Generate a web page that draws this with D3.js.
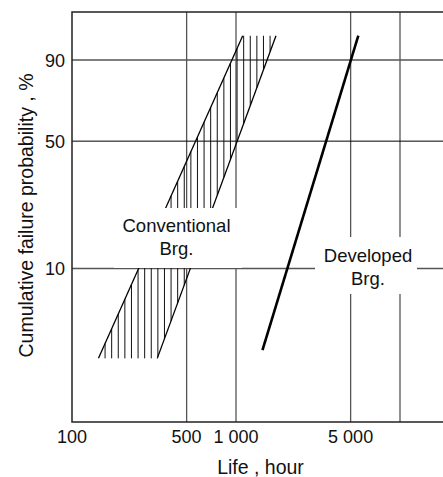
<!DOCTYPE html>
<html>
<head>
<meta charset="utf-8">
<script src="https://cdn.jsdelivr.net/npm/d3@7"></script>
<style>
	body{margin:0;background:#fff;}
	svg text{font-family:"Liberation Sans",Arial,sans-serif;fill:#111;}
</style>
</head>
<body>
<div id="chart"></div>
<script>
// data (life in hours, F in %)
var xTickValues=[100,500,1000,5000];
var xTickLabels=["100","500","1 000","5 000"];
var xGridValues=[500,1000,5000,10000];
var yTickValues=[10,50,90];
var yTickLabels=["10","50","90"];
var developedLife=[1450,5570];
var developedF=[3.1,96.3];
var convLeftLife=[145,1099];
var convRightLife=[331,1753];
var convF=[2.75,96.3];
var labelConventional=["Conventional","Brg."];
var labelDeveloped=["Developed","Brg."];

var W=443,H=477;
var mLeft=72,mTop=12,mRight=443,mBottom=422;

// weibull probability transform
function weib(p){return Math.log(-Math.log(1-p/100));}

var x=d3.scaleLog().domain([100,10000]).range([mLeft,400]);
var y=d3.scaleLinear().domain([weib(10),weib(90)]).range([268.5,60]);

var svg=d3.select("#chart").append("svg").attr("width",W).attr("height",H);

// grid
svg.selectAll("line.vgrid").data(xGridValues).enter().append("line")
	.attr("class","vgrid")
	.attr("x1",function(d){return x(d);}).attr("x2",function(d){return x(d);})
	.attr("y1",mTop).attr("y2",mBottom)
	.attr("stroke","#555").attr("stroke-width",1.3);
svg.selectAll("line.hgrid").data(yTickValues).enter().append("line")
	.attr("class","hgrid")
	.attr("x1",mLeft).attr("x2",mRight)
	.attr("y1",function(d){return y(weib(d));}).attr("y2",function(d){return y(weib(d));})
	.attr("stroke",function(d){return d==50?"#000":"#555";})
	.attr("stroke-width",function(d){return d==50?1:1.3;});

// frame: top, left, bottom
svg.append("path")
	.attr("d","M"+mRight+","+mTop+"H"+mLeft+"V"+mBottom+"H"+mRight)
	.attr("fill","none").attr("stroke","#222").attr("stroke-width",1.5);

// conventional band
var yTop=y(weib(convF[1])),yBot=y(weib(convF[0]));
var lx0=x(convLeftLife[0]),lx1=x(convLeftLife[1]);
var rx0=x(convRightLife[0]),rx1=x(convRightLife[1]);
function yOnLine(xa,ya,xb,yb,xv){return ya+(yb-ya)*(xv-xa)/(xb-xa);}
var hatch=[];
for(var hx=lx0+6.6;hx<rx1;hx+=6.6){
	var t=Math.max(yTop,yOnLine(lx0,yBot,lx1,yTop,hx));
	var b=Math.min(yBot,yOnLine(rx0,yBot,rx1,yTop,hx));
	if(b>t) hatch.push({x:hx,t:t,b:b});
}
svg.selectAll("line.hatch").data(hatch).enter().append("line")
	.attr("class","hatch")
	.attr("x1",function(d){return d.x;}).attr("x2",function(d){return d.x;})
	.attr("y1",function(d){return d.t;}).attr("y2",function(d){return d.b;})
	.attr("stroke","#111").attr("stroke-width",1);

var line=d3.line().x(function(d){return x(d[0]);}).y(function(d){return y(weib(d[1]));});
svg.append("path").datum(d3.zip(convLeftLife,convF)).attr("d",line)
	.attr("fill","none").attr("stroke","#000").attr("stroke-width",1.3);
svg.append("path").datum(d3.zip(convRightLife,convF)).attr("d",line)
	.attr("fill","none").attr("stroke","#000").attr("stroke-width",1.3);

// developed
svg.append("path").datum(d3.zip(developedLife,developedF)).attr("d",line)
	.attr("fill","none").attr("stroke","#000").attr("stroke-width",2.6);

// label boxes
svg.append("rect").attr("x",114).attr("y",208).attr("width",128).attr("height",60).attr("fill","#fff");
svg.append("rect").attr("x",315).attr("y",237).attr("width",102).attr("height",57).attr("fill","#fff");

svg.selectAll("text.conv").data(labelConventional).enter().append("text")
	.attr("class","conv")
	.attr("x",176.5).attr("y",function(d,i){return 231.5+i*23.5;})
	.attr("text-anchor","middle").attr("font-size",18.5).text(function(d){return d;});
svg.selectAll("text.dev").data(labelDeveloped).enter().append("text")
	.attr("class","dev")
	.attr("x",368).attr("y",function(d,i){return 261.5+i*23.5;})
	.attr("text-anchor","middle").attr("font-size",18.5).text(function(d){return d;});

// tick labels
svg.selectAll("text.xt").data(xTickValues).enter().append("text")
	.attr("class","xt")
	.attr("x",function(d){return x(d);}).attr("y",443)
	.attr("text-anchor","middle").attr("font-size",18)
	.text(function(d,i){return xTickLabels[i];});
svg.selectAll("text.yt").data(yTickValues).enter().append("text")
	.attr("class","yt")
	.attr("x",65).attr("y",function(d){return y(weib(d))+6.5;})
	.attr("text-anchor","end").attr("font-size",18)
	.text(function(d,i){return yTickLabels[i];});

// axis titles
svg.append("text").attr("x",260.5).attr("y",473.5).attr("text-anchor","middle")
	.attr("font-size",19.5).text("Life , hour");
svg.append("text").attr("transform","translate(32.5,215.5) rotate(-90)")
	.attr("text-anchor","middle").attr("font-size",19.5)
	.text("Cumulative failure probability , %");
</script>
</body>
</html>
